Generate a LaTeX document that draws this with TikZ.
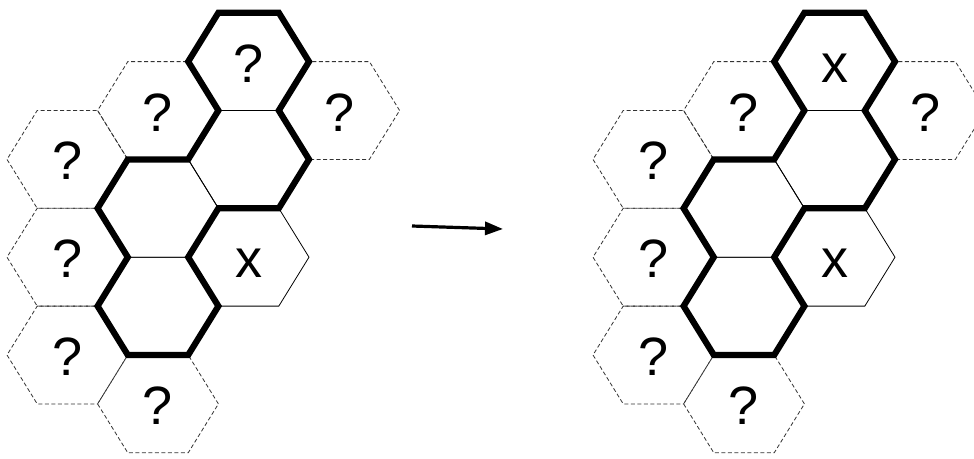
\documentclass[tikz,border=0pt]{standalone}
\usepackage{fontspec}
\setmainfont{Liberation Sans}
\usetikzlibrary{arrows.meta}
\tikzset{
  hexagon/.pic={\path[pic actions] (60.4,0) -- (30.2,-48.9) -- (-30.2,-48.9) -- (-60.4,0) -- (-30.2,48.9) -- (30.2,48.9) -- cycle;},
  dashedhex/.style={draw=black!80, line width=0.8pt, dash pattern=on 4pt off 2.5pt},
  thinhex/.style={draw=black, line width=0.8pt},
  boldrim/.style={draw=black, line width=6.2pt, line join=miter},
  cellmark/.style={font=\fontsize{54}{54}\selectfont, inner sep=0pt, anchor=base},
  steparrow/.style={line width=3.2pt, -{Triangle[length=18pt,width=13pt]}},
}
\newcommand\hexpanel[3]{%
 \begin{scope}[xshift=#2]
  % dashed neighbours
  \pic[dashedhex] at (67.4,159.4) {hexagon};
  \pic[dashedhex] at (67.4,257.2) {hexagon};
  \pic[dashedhex] at (67.4,355) {hexagon};
  \pic[dashedhex] at (158,110.5) {hexagon};
  \pic[dashedhex] at (158,403.9) {hexagon};
  \pic[dashedhex] at (339.2,110.5) {hexagon};
  % thin cells
  \pic[thinhex] at (248.6,61.6) {hexagon};
  \pic[thinhex] at (248.6,159.4) {hexagon};
  \pic[thinhex] at (158,208.3) {hexagon};
  \pic[thinhex] at (158,306.1) {hexagon};
  \pic[thinhex] at (248.6,257.2) {hexagon};
  % bold outline of the group
  \draw[boldrim] (218.4,12.7) -- (278.8,12.7) -- (309,61.6) -- (278.8,110.5)
     -- (309,159.4) -- (278.8,208.3) -- (218.4,208.3) -- (188.2,257.2)
     -- (218.4,306.1) -- (188.2,355) -- (127.8,355) -- (97.6,306.1)
     -- (127.8,257.2) -- (97.6,208.3) -- (127.8,159.4) -- (188.2,159.4)
     -- (218.4,110.5) -- (188.2,61.6) -- cycle;
  % labels
  \node[cellmark] (#1-top) at (248.6,82.1) {#3};
  \node[cellmark] (#1-x) at (248.6,277.7) {x};
  \node[cellmark] (#1-a) at (67.4,179.9) {?};
  \node[cellmark] (#1-b) at (67.4,277.7) {?};
  \node[cellmark] (#1-c) at (67.4,375.5) {?};
  \node[cellmark] (#1-d) at (158,131) {?};
  \node[cellmark] (#1-e) at (158,424.4) {?};
  \node[cellmark] (#1-f) at (339.2,131) {?};
 \end{scope}}
\begin{document}
\begin{tikzpicture}[x=1pt,y=-1pt]
  \fill[white] (0,0) rectangle (974,458);
  \useasboundingbox (0,0) rectangle (974,458);
  \clip (0,0) rectangle (974,458);
  \hexpanel{L}{0pt}{?}
  \hexpanel{R}{586pt}{x}
  \coordinate (arrowtail) at (412,226);
  \coordinate (arrowtip) at (503,229);
  \draw[steparrow] (arrowtail) -- (arrowtip);
\end{tikzpicture}
\end{document}
